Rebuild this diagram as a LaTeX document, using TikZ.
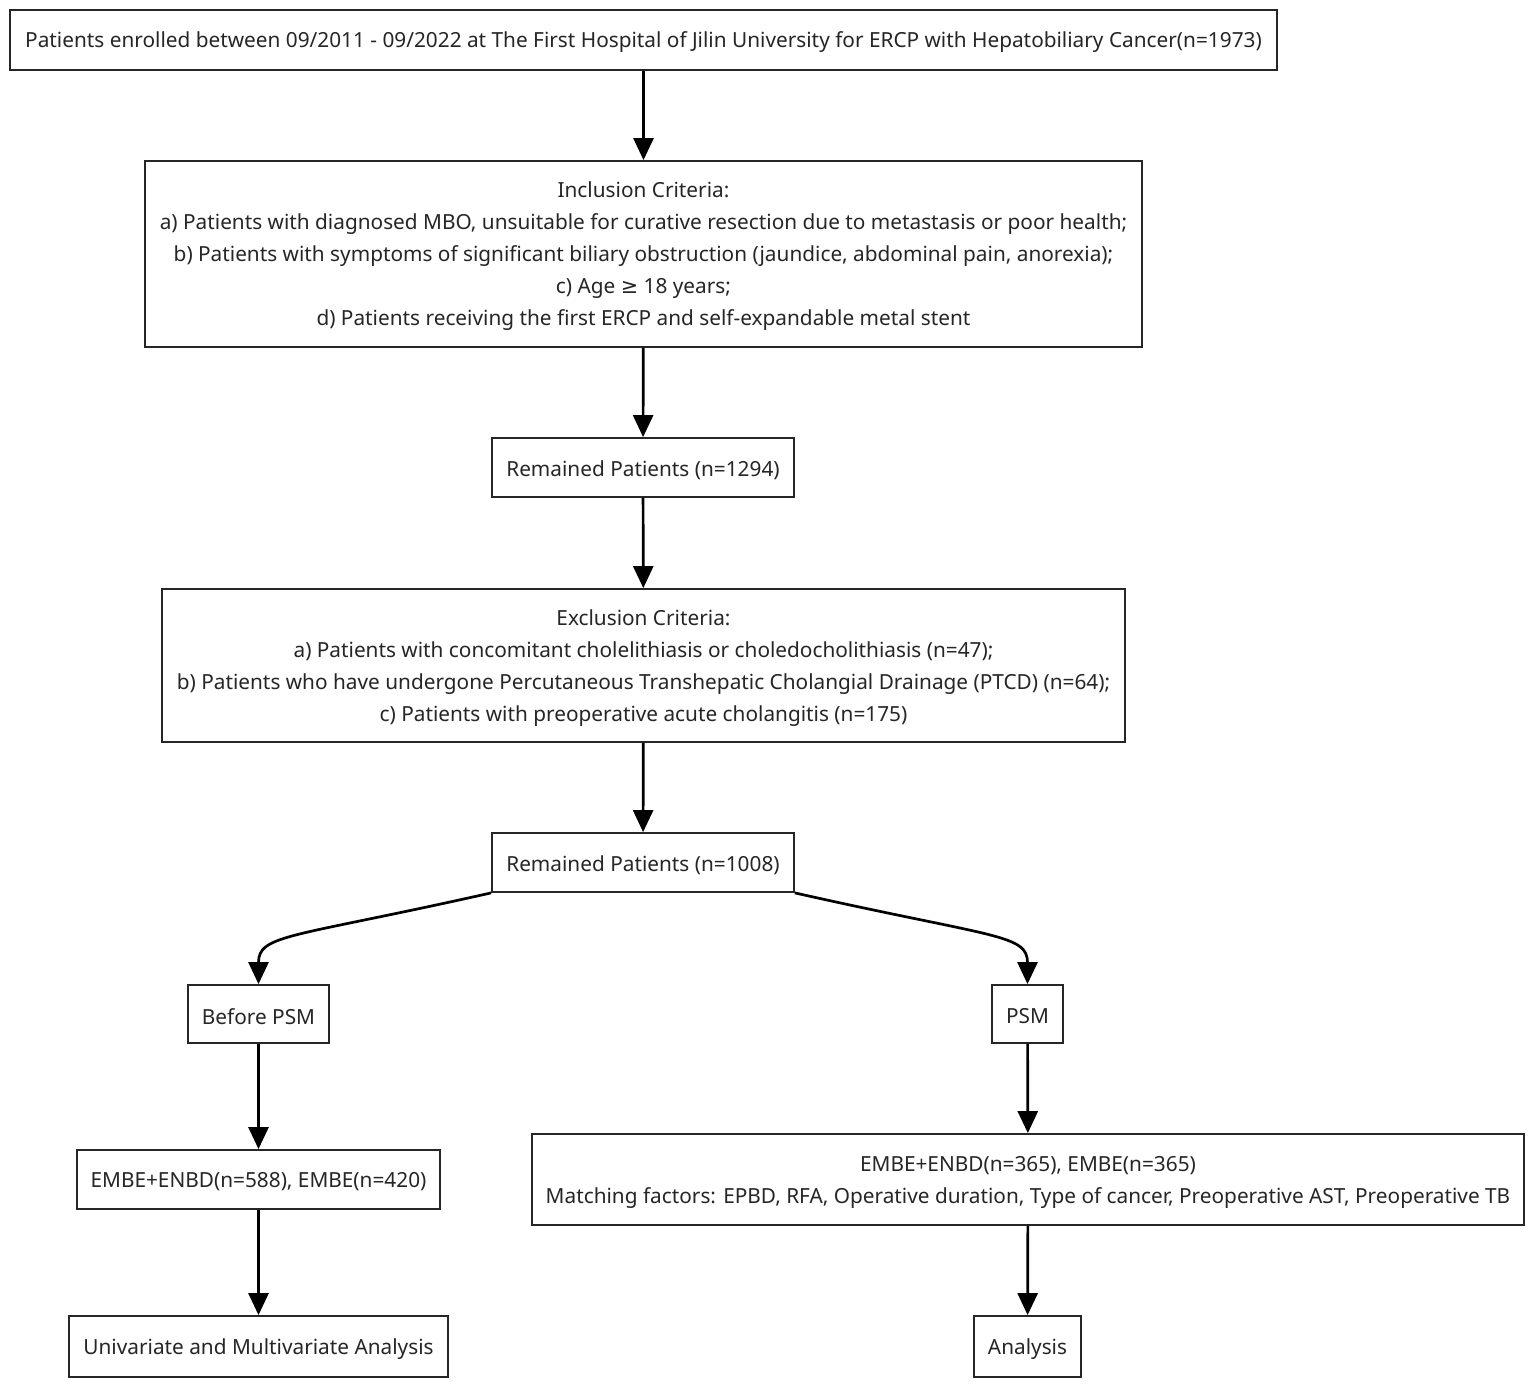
\documentclass[tikz,border=0pt]{standalone}
\usepackage{fontspec}
\setmainfont{Noto Sans}
\newfontfamily\symfont{DejaVu Sans}
\usetikzlibrary{arrows.meta}
\newcommand{\bx}[5]{%
  \node[box,minimum width=#3pt,minimum height=#4pt] (#1) at (#2) {};
  \node[txt] (#1t) at ([yshift=-2.5pt]#1.center) {#5};}
\begin{document}
\begin{tikzpicture}[x={(1pt,0)},y={(0,-1pt)},
  box/.style={draw=black!85,line width=1.8pt,fill=white,inner sep=0pt},
  txt/.style={inner sep=0pt,align=center,font=\fontsize{20.8}{32}\selectfont,text=black!85},
  conn/.style={line width=2.7pt,-{Triangle[width=20pt,length=22pt]}}]
\useasboundingbox (0,0) rectangle (1535,1386);
\bx{b1}{643.5,40}{1267}{60}{Patients enrolled between 09/2011 - 09/2022 at The First Hospital of Jilin University for ERCP with Hepatobiliary Cancer(n=1973)}
\bx{b2}{643.5,254}{997}{186}{Inclusion Criteria:\\
a) Patients with diagnosed MBO, unsuitable for curative resection due to metastasis or poor health;\\
b) Patients with symptoms of significant biliary obstruction (jaundice, abdominal pain, anorexia);\\
c) Age {\symfont ≥} 18 years;\\
d) Patients receiving the first ERCP and self-expandable metal stent}
\bx{b3}{643,467.5}{302}{59}{Remained Patients (n=1294)}
\bx{b4}{643.5,665.5}{963}{153}{Exclusion Criteria:\\
a) Patients with concomitant cholelithiasis or choledocholithiasis (n=47);\\
b) Patients who have undergone Percutaneous Transhepatic Cholangial Drainage (PTCD) (n=64);\\
c) Patients with preoperative acute cholangitis (n=175)}
\bx{b5}{643,862.5}{302}{59}{Remained Patients (n=1008)}
\bx{b6}{258.5,1014}{141}{58}{Before PSM}
\bx{b7}{1027.5,1014}{71}{58}{PSM}
\bx{b8}{258.5,1179.5}{363}{59}{EMBE+ENBD(n=588), EMBE(n=420)}
\bx{b9}{1028,1179.5}{992}{91}{EMBE+ENBD(n=365), EMBE(n=365)\\
Matching factors: EPBD, RFA, Operative duration, Type of cancer, Preoperative AST, Preoperative TB}
\bx{b10}{258.5,1346.5}{379}{61}{Univariate and Multivariate Analysis}
\bx{b11}{1027.5,1346.5}{107}{61}{Analysis}
\draw[conn] (b1) -- (b2);
\draw[conn] (b2) -- (b3);
\draw[conn] (b3) -- (b4);
\draw[conn] (b4) -- (b5);
\draw[conn] (b5.south west) .. controls +(-200,45) and +(0,-50) .. (b6.north);
\draw[conn] (b5.south east) .. controls +(200,45) and +(0,-50) .. (b7.north);
\draw[conn] (b6) -- (b8);
\draw[conn] (b7) -- (b9);
\draw[conn] (b8) -- (b10);
\draw[conn] (b9) -- (b11);
\end{tikzpicture}
\end{document}
